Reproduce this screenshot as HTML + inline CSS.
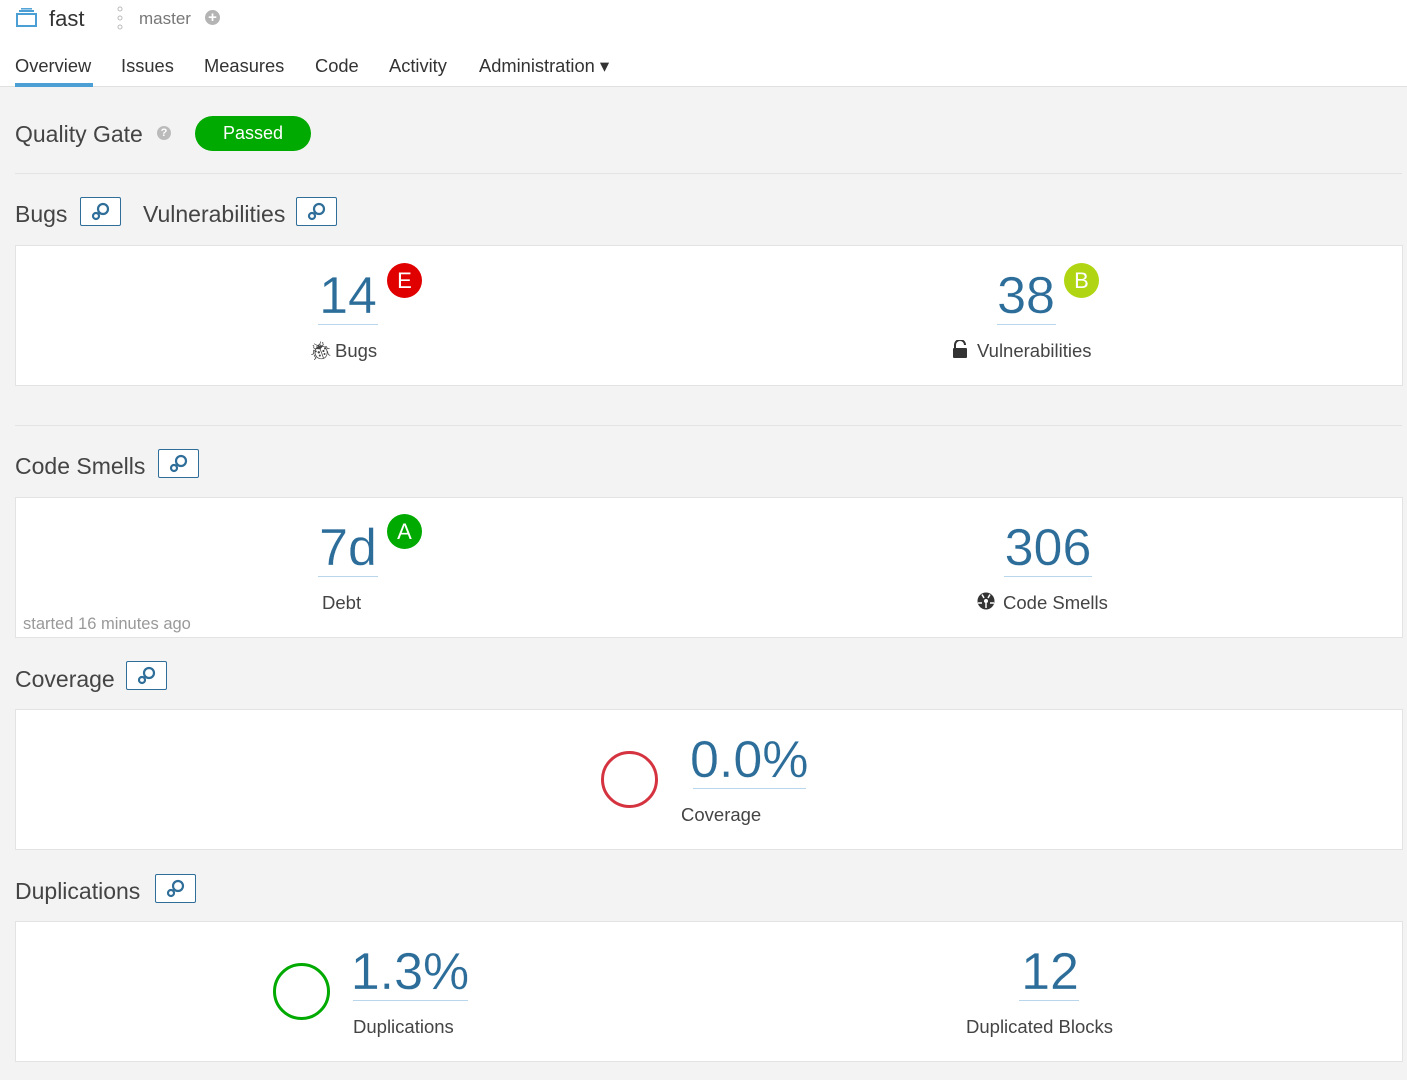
<!DOCTYPE html>
<html><head><meta charset="utf-8"><style>
*{margin:0;padding:0;box-sizing:border-box}
body{width:1407px;height:1080px;background:#f3f3f3;font-family:"Liberation Sans",Arial,sans-serif;color:#444;position:relative;overflow:hidden}
.a{position:absolute;white-space:nowrap}
.hdr{left:0;top:0;width:1407px;height:87px;background:#fff;border-bottom:1px solid #e0e0e0}
.nav{top:56px;font-size:18.3px;color:#333;line-height:20px}
.h{font-size:23px;color:#444;line-height:22px}
.sep{left:15px;width:1387px;height:1px;background:#e3e3e3}
.panel{left:15px;width:1388px;background:#fff;border:1px solid #e3e3e3}
.btn{width:41px;height:29px;border:1.5px solid #2f6e99;border-radius:2px;background:#fff}
.num{font-size:52px;line-height:54px;color:#2c6d9a;text-align:center;-webkit-text-stroke:0.3px #fff}
.ul{height:1px;background:#b8d7ec}
.lbl{font-size:18.5px;line-height:18px;color:#444}
.rate{width:35px;height:35px;border-radius:50%;color:#fff;font-size:22px;line-height:35px;text-align:center}
</style></head><body>
<div class="a hdr"></div>
<svg class="a" style="left:16px;top:8px" width="22" height="20" viewBox="0 0 22 20"><rect x="1" y="6" width="19" height="12" fill="none" stroke="#4b9fd5" stroke-width="2"/><line x1="3" y1="3" x2="18" y2="3" stroke="#4b9fd5" stroke-width="2"/><line x1="5" y1="0.8" x2="16" y2="0.8" stroke="#4b9fd5" stroke-width="1.5"/></svg>
<div class="a" style="left:49px;top:6px;font-size:22px;color:#333">fast</div>
<svg class="a" style="left:116px;top:6px" width="8" height="24"><circle cx="4" cy="3" r="2" fill="none" stroke="#bbb"/><circle cx="4" cy="12" r="2" fill="none" stroke="#bbb"/><circle cx="4" cy="21" r="2" fill="none" stroke="#bbb"/></svg>
<div class="a" style="left:139px;top:9px;font-size:17px;color:#777">master</div>
<div class="a" style="left:205px;top:10px;width:15px;height:15px;border-radius:50%;background:#b4b4b4;color:#fff;font-size:15px;line-height:15px;text-align:center;font-weight:bold">+</div>
<div class="a nav" style="left:15px">Overview</div>
<div class="a nav" style="left:121px">Issues</div>
<div class="a nav" style="left:204px">Measures</div>
<div class="a nav" style="left:315px">Code</div>
<div class="a nav" style="left:389px">Activity</div>
<div class="a nav" style="left:479px">Administration ▾</div>
<div class="a" style="left:15px;top:83px;width:78px;height:4px;background:#4b9fd5"></div>

<div class="a h" style="left:15px;top:123px">Quality Gate</div>
<div class="a" style="left:157px;top:126px;width:14px;height:14px;border-radius:50%;background:#bbb;color:#fff;font-size:11px;line-height:14px;text-align:center;font-weight:bold">?</div>
<div class="a" style="left:195px;top:116px;width:116px;height:35px;border-radius:18px;background:#00aa00;color:#fff;font-size:18px;line-height:35px;text-align:center">Passed</div>
<div class="a sep" style="top:173px"></div>

<div class="a h" style="left:15px;top:203px">Bugs</div>
<div class="a btn" style="left:80px;top:197px"></div>
<div class="a h" style="left:143px;top:203px">Vulnerabilities</div>
<div class="a btn" style="left:296px;top:197px"></div>
<div class="a panel" style="top:245px;height:141px"></div>
<div class="a num" style="left:298px;top:269px;width:100px">14</div>
<div class="a ul" style="left:318px;top:324px;width:60px"></div>
<div class="a rate" style="left:387px;top:263px;background:#e00000">E</div>
<div class="a lbl" style="left:309px;top:342px">🐞&#xFE0E;</div>
<div class="a lbl" style="left:335px;top:342px">Bugs</div>
<div class="a num" style="left:976px;top:269px;width:100px">38</div>
<div class="a ul" style="left:997px;top:324px;width:59px"></div>
<div class="a rate" style="left:1064px;top:263px;background:#b0d513">B</div>
<svg class="a" style="left:952px;top:340px" width="16" height="19"><path d="M3 8V5a5 5 0 0 1 10 0" fill="none" stroke="#333" stroke-width="2"/><rect x="1" y="8" width="14" height="10" rx="1" fill="#333"/></svg>
<div class="a lbl" style="left:977px;top:342px">Vulnerabilities</div>

<div class="a sep" style="top:425px"></div>
<div class="a h" style="left:15px;top:455px">Code Smells</div>
<div class="a btn" style="left:158px;top:449px"></div>
<div class="a panel" style="top:497px;height:141px"></div>
<div class="a num" style="left:298px;top:521px;width:100px">7d</div>
<div class="a ul" style="left:318px;top:576px;width:60px"></div>
<div class="a rate" style="left:387px;top:514px;background:#00aa00">A</div>
<div class="a lbl" style="left:322px;top:594px">Debt</div>
<div class="a" style="left:23px;top:615px;font-size:16.5px;color:#999">started 16 minutes ago</div>
<div class="a num" style="left:988px;top:521px;width:120px">306</div>
<div class="a ul" style="left:1004px;top:576px;width:88px"></div>
<svg class="a" style="left:977px;top:592px" width="18" height="18"><circle cx="9" cy="9" r="8.5" fill="#333"/><circle cx="9" cy="9" r="2" fill="#fff"/><path d="M7 6L5 2.5M11 6l2-3.5M5 11H1M13 11h4M9 11v5" stroke="#fff" stroke-width="1.5"/></svg>
<div class="a lbl" style="left:1003px;top:594px">Code Smells</div>

<div class="a h" style="left:15px;top:668px">Coverage</div>
<div class="a btn" style="left:126px;top:661px"></div>
<div class="a panel" style="top:709px;height:141px"></div>
<div class="a" style="left:601px;top:751px;width:57px;height:57px;border-radius:50%;border:3.5px solid #d4333f"></div>
<div class="a num" style="left:690px;top:733px;width:118px">0.0%</div>
<div class="a ul" style="left:693px;top:788px;width:113px"></div>
<div class="a lbl" style="left:681px;top:806px">Coverage</div>

<div class="a h" style="left:15px;top:880px">Duplications</div>
<div class="a btn" style="left:155px;top:874px"></div>
<div class="a panel" style="top:921px;height:141px"></div>
<div class="a" style="left:273px;top:963px;width:57px;height:57px;border-radius:50%;border:3.5px solid #00aa00"></div>
<div class="a num" style="left:350px;top:945px;width:120px">1.3%</div>
<div class="a ul" style="left:353px;top:1000px;width:115px"></div>
<div class="a lbl" style="left:353px;top:1018px">Duplications</div>
<div class="a num" style="left:1000px;top:945px;width:100px">12</div>
<div class="a ul" style="left:1019px;top:1000px;width:60px"></div>
<div class="a lbl" style="left:966px;top:1018px">Duplicated Blocks</div>

<svg width="0" height="0" style="position:absolute"><defs><g id="lk"><circle cx="23" cy="12" r="5" fill="none" stroke="#2f6e99" stroke-width="2.2"/><circle cx="16" cy="19" r="3" fill="none" stroke="#2f6e99" stroke-width="2.2"/></g></defs></svg>
<svg class="a" style="left:80px;top:197px" width="41" height="29"><use href="#lk"/></svg>
<svg class="a" style="left:296px;top:197px" width="41" height="29"><use href="#lk"/></svg>
<svg class="a" style="left:158px;top:449px" width="41" height="29"><use href="#lk"/></svg>
<svg class="a" style="left:126px;top:661px" width="41" height="29"><use href="#lk"/></svg>
<svg class="a" style="left:155px;top:874px" width="41" height="29"><use href="#lk"/></svg>
</body></html>
